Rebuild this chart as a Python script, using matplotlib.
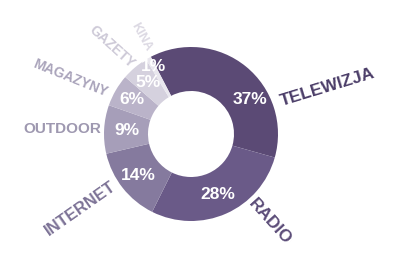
import numpy as np
import matplotlib
matplotlib.use("Agg")
from matplotlib import pyplot as plt

# Udział wydatków reklamowych wg mediów
media = ["TELEWIZJA", "RADIO", "INTERNET", "OUTDOOR", "MAGAZYNY", "GAZETY", "KINA"]
share = [37, 28, 14, 9, 6, 5, 1]
pct_labels = ["37%", "28%", "14%", "9%", "6%", "5%", "1%"]

wedge_colors = ["#5b4a75", "#6a5a88", "#857a9e", "#a69eb9", "#bab3c9", "#d5d1de", "#e9e7ee"]
text_colors = ["#4b3d68", "#5b4c78", "#7c7296", "#9e98b0", "#aaa4bb", "#cdc9d7", "#dcd9e3"]

# label placement (angle in deg, distance in px, rotation, font size)
lab_ang = [19, -48, 214, 178, 155, 132, 117]
lab_dist = [144, 118, 134, 129, 133, 118, 109]
lab_rot = [17, -48, 35, 0, -22, -42, -61]
lab_size = [12.5, 12.5, 12, 11, 10, 10, 9]

plt.rcParams["font.family"] = ["Liberation Sans", "DejaVu Sans"]

fig = plt.figure(figsize=(4, 2.66), dpi=100)
ax = fig.add_axes([0, 0, 1, 1])

cx, cy = 191, 132
R, W = 87, 44
start = 117.5

wedges, _ = ax.pie(share, colors=wedge_colors, startangle=start, counterclock=False,
                   center=(cx, cy), radius=R, wedgeprops=dict(width=W, linewidth=0))

# percentage labels inside the ring
cum = np.cumsum([0] + share[:-1])
mid = start - (cum + np.array(share) / 2) * 3.6
mid[0] = 30  # 37% sits higher in the original
r_pct = [68, 66, 67, 64, 68, 67, 77]
for a, r, t in zip(mid, r_pct, pct_labels):
    ax.text(cx + r * np.cos(np.radians(a)), cy + r * np.sin(np.radians(a)), t,
            ha="center", va="center", color="white", fontsize=12.5, fontweight="bold")

# category labels around
for name, a, d, rot, fs, c in zip(media, lab_ang, lab_dist, lab_rot, lab_size, text_colors):
    ax.text(cx + d * np.cos(np.radians(a)), cy + d * np.sin(np.radians(a)), name,
            ha="center", va="center", rotation=rot, rotation_mode="anchor",
            color=c, fontsize=fs, fontweight="bold")

ax.set_xlim(0, 400)
ax.set_ylim(0, 266)
ax.set_aspect("auto")
ax.axis("off")

fig.savefig("out.png", dpi=100)
